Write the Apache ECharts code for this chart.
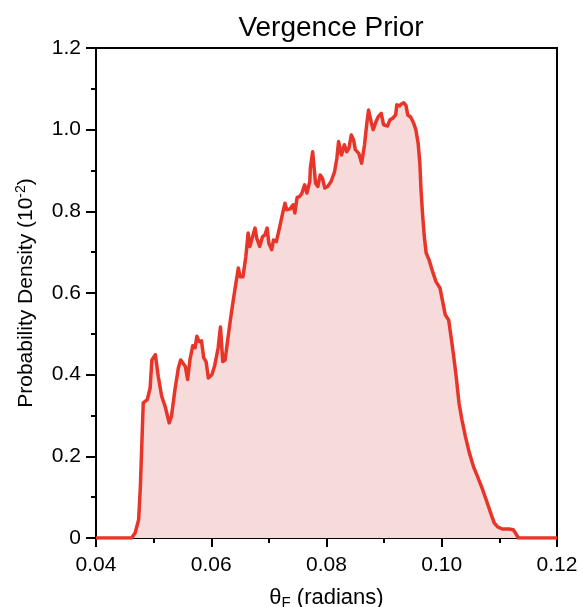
<!DOCTYPE html>
<html>
<head>
<meta charset="utf-8">
<title>Vergence Prior</title>
<script src="https://cdn.jsdelivr.net/npm/echarts@6/dist/echarts.min.js"></script>
<style>
  html, body { margin: 0; padding: 0; background: #fff; }
  #chart { width: 583px; height: 607px; }
</style>
</head>
<body>
<div id="chart"></div>
<script>
// theta_F (radians)
var thetaF = [
  0.0400, 0.0462, 0.0468, 0.0474, 0.0477, 0.0482, 0.0489, 0.0494, 0.0497, 0.0503,
  0.0508, 0.0514, 0.0520, 0.0527, 0.0531, 0.0537, 0.0543, 0.0547, 0.0555, 0.0559,
  0.0563, 0.0568, 0.0572, 0.0575, 0.0579, 0.0583, 0.0587, 0.0591, 0.0595, 0.0601,
  0.0606, 0.0612, 0.0616, 0.0620, 0.0624, 0.0629, 0.0635, 0.0641, 0.0647, 0.0650,
  0.0655, 0.0660, 0.0664, 0.0667, 0.0671, 0.0676, 0.0679, 0.0684, 0.0689, 0.0693,
  0.0697, 0.0700, 0.0705, 0.0708, 0.0713, 0.0719, 0.0724, 0.0728, 0.0731, 0.0737,
  0.0742, 0.0745, 0.0749, 0.0753, 0.0757, 0.0762, 0.0766, 0.0771, 0.0772, 0.0776,
  0.0781, 0.0785, 0.0789, 0.0793, 0.0797, 0.0802, 0.0808, 0.0814, 0.0818, 0.0821,
  0.0826, 0.0828, 0.0831, 0.0835, 0.0839, 0.0843, 0.0847, 0.0850, 0.0856, 0.0861,
  0.0866, 0.0870, 0.0873, 0.0878, 0.0881, 0.0886, 0.0890, 0.0895, 0.0899, 0.0906,
  0.0910, 0.0915, 0.0920, 0.0922, 0.0927, 0.0930, 0.0934, 0.0938, 0.0941, 0.0946,
  0.0951, 0.0955, 0.0959, 0.0962, 0.0964, 0.0967, 0.0970, 0.0973, 0.0978, 0.0984,
  0.0990, 0.0997, 0.1001, 0.1006, 0.1012, 0.1016, 0.1020, 0.1025, 0.1030, 0.1035,
  0.1041, 0.1048, 0.1055, 0.1062, 0.1070, 0.1078, 0.1085, 0.1091, 0.1097, 0.1105,
  0.1117, 0.1124, 0.1128, 0.1133, 0.1200
];

// probability density (x 10^-2)
var density = [
  0.000, 0.000, 0.013, 0.045, 0.126, 0.331, 0.339, 0.368, 0.436, 0.449,
  0.396, 0.347, 0.322, 0.282, 0.298, 0.363, 0.417, 0.436, 0.420, 0.388,
  0.436, 0.471, 0.466, 0.494, 0.481, 0.483, 0.441, 0.432, 0.392, 0.400,
  0.422, 0.466, 0.517, 0.432, 0.436, 0.490, 0.552, 0.608, 0.661, 0.640,
  0.640, 0.689, 0.747, 0.714, 0.734, 0.759, 0.734, 0.714, 0.738, 0.742,
  0.759, 0.722, 0.706, 0.730, 0.726, 0.763, 0.796, 0.820, 0.804, 0.806,
  0.816, 0.796, 0.834, 0.836, 0.843, 0.865, 0.845, 0.873, 0.906, 0.946,
  0.869, 0.861, 0.889, 0.881, 0.857, 0.861, 0.873, 0.897, 0.930, 0.971,
  0.938, 0.934, 0.963, 0.946, 0.955, 0.987, 0.975, 0.951, 0.942, 0.918,
  0.963, 1.016, 1.048, 1.016, 1.000, 1.020, 1.032, 1.040, 1.012, 1.009,
  1.024, 1.028, 1.036, 1.061, 1.058, 1.063, 1.066, 1.059, 1.036, 1.031,
  1.017, 1.000, 0.967, 0.918, 0.853, 0.787, 0.734, 0.698, 0.681, 0.653,
  0.628, 0.612, 0.583, 0.547, 0.534, 0.494, 0.453, 0.396, 0.330, 0.290,
  0.249, 0.208, 0.175, 0.151, 0.122, 0.090, 0.061, 0.037, 0.027, 0.022,
  0.022, 0.020, 0.012, 0.000, 0.000
];

var xTicks = [0.04, 0.06, 0.08, 0.10, 0.12];
var yTicks = [0, 0.2, 0.4, 0.6, 0.8, 1.0, 1.2];

var points = thetaF.map(function (x, i) { return [x, density[i]]; });

var font = "'Liberation Sans', Arial, Helvetica, sans-serif";

var myChart = echarts.init(document.getElementById("chart"));
var option = {
  animation: false,
  backgroundColor: "#fff",
  title: {
    text: "Vergence Prior",
    left: 326,
    textAlign: "center",
    top: 9,
    textStyle: { fontFamily: font, fontSize: 28, fontWeight: "normal", color: "#000" }
  },
  grid: {
    left: 96,
    right: 26,
    top: 48,
    bottom: 69,
    outerBoundsMode: "none",
    show: true,
    borderColor: "#000",
    borderWidth: 2,
    backgroundColor: "transparent"
  },
  xAxis: {
    type: "value",
    min: xTicks[0],
    max: xTicks[xTicks.length - 1],
    interval: 0.02,
    name: "{a|θ}{s|F}{a| (radians)}",
    nameLocation: "middle",
    nameGap: 47,
    nameTextStyle: {
      rich: {
        a: { fontFamily: font, fontSize: 22, color: "#000" },
        s: { fontFamily: font, fontSize: 15, color: "#000", padding: [10, 0, 0, 0] }
      }
    },
    axisLine: { show: true, lineStyle: { color: "#000", width: 2 } },
    axisTick: { show: true, inside: false, length: 9, lineStyle: { color: "#000", width: 2 } },
    minorTick: { show: true, splitNumber: 2, length: 5, lineStyle: { color: "#000", width: 2 } },
    splitLine: { show: false },
    axisLabel: {
      margin: 17,
      fontFamily: font,
      fontSize: 21,
      color: "#000",
      formatter: function (v) { return v.toFixed(2); }
    }
  },
  yAxis: {
    type: "value",
    min: yTicks[0],
    max: yTicks[yTicks.length - 1],
    interval: 0.2,
    name: "{a|Probability Density (10}{p|-2}{a|)}",
    nameLocation: "middle",
    nameGap: 57,
    nameRotate: 90,
    nameTextStyle: {
      rich: {
        a: { fontFamily: font, fontSize: 21, color: "#000" },
        p: { fontFamily: font, fontSize: 14, color: "#000", padding: [0, 0, 11, 0] }
      }
    },
    axisLine: { show: true, lineStyle: { color: "#000", width: 2 } },
    axisTick: { show: true, inside: false, length: 10, lineStyle: { color: "#000", width: 2 } },
    minorTick: { show: true, splitNumber: 2, length: 5, lineStyle: { color: "#000", width: 2 } },
    splitLine: { show: false },
    axisLabel: {
      margin: 15,
      fontFamily: font,
      fontSize: 21,
      color: "#000",
      formatter: function (v) { return v === 0 ? "0" : v.toFixed(1); }
    }
  },
  series: [
    {
      name: "prior",
      type: "line",
      data: points,
      showSymbol: false,
      symbol: "none",
      smooth: false,
      lineStyle: { color: "#e8352a", width: 3.5, join: "round" },
      areaStyle: { color: "#f6dbda", opacity: 1 },
      z: 3
    }
  ]
};
myChart.setOption(option);
window.addEventListener("resize", function () { myChart.resize(); });
</script>
</body>
</html>
